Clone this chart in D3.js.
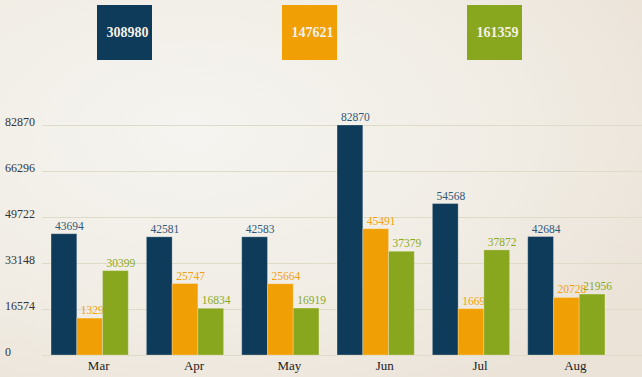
<!DOCTYPE html>
<html>
<head>
<meta charset="utf-8">
<script src="https://cdn.jsdelivr.net/npm/d3@7"></script>
<style>
  html, body { margin: 0; padding: 0; }
  body { width: 642px; height: 377px; overflow: hidden; }
  svg text { font-family: "Liberation Serif", "DejaVu Serif", serif; }
</style>
</head>
<body>
<div id="chart"></div>
<script>
const width = 642;
const height = 377;

// data
const months = ["Mar", "Apr", "May", "Jun", "Jul", "Aug"];
const seriesNames = ["navy", "orange", "green"];
const navyValues   = [43694, 42581, 42583, 82870, 54568, 42684];
const orangeValues = [13295, 25747, 25664, 45491, 16696, 20728];
const greenValues  = [30399, 16834, 16919, 37379, 37872, 21956];
// labels as printed on the chart (two orange ones are shown cut short)
const orangeLabels = ["1329", "25747", "25664", "45491", "1669", "20728"];
const yTicks = [0, 16574, 33148, 49722, 66296, 82870];

const colors = { navy: "#0e3b5a", orange: "#f09f04", green: "#89a71e" };
const labelColors = { navy: "#2f5878", orange: "#f3a10c", green: "#8aa91f" };

const series = [
    { key: "navy", values: navyValues, labels: navyValues.map(String) },
    { key: "orange", values: orangeValues, labels: orangeLabels },
    { key: "green", values: greenValues, labels: greenValues.map(String) }
];

const svg = d3.select("#chart")
    .append("svg")
    .attr("width", width)
    .attr("height", height);

// background
const defs = svg.append("defs");
const bg = defs.append("radialGradient")
    .attr("id", "bg")
    .attr("cx", "30%").attr("cy", "35%").attr("r", "80%");
bg.append("stop").attr("offset", "0%").attr("stop-color", "#f5f4f0");
bg.append("stop").attr("offset", "60%").attr("stop-color", "#f1ede5");
bg.append("stop").attr("offset", "100%").attr("stop-color", "#ebe3d8");
svg.append("rect")
    .attr("width", width).attr("height", height)
    .attr("fill", "url(#bg)");

const x = d3.scaleBand()
    .domain(months)
    .range([42, 614])
    .paddingInner(0.19)
    .paddingOuter(0.095);

const xInner = d3.scaleBand()
    .domain(seriesNames)
    .range([0, x.bandwidth()]);

const y = d3.scaleLinear()
    .domain([0, 82870])
    .range([355, 125]);

// gridlines + y labels
const grid = svg.append("g");
grid.selectAll("line")
    .data(yTicks)
    .enter()
    .append("line")
    .attr("x1", 42).attr("x2", width)
    .attr("y1", d => Math.round(y(d)) + 0.5)
    .attr("y2", d => Math.round(y(d)) + 0.5)
    .attr("stroke", "#dedbc9")
    .attr("stroke-width", 1);

grid.selectAll("text")
    .data(yTicks)
    .enter()
    .append("text")
    .attr("x", 5)
    .attr("y", d => y(d) + 1)
    .attr("font-size", "12px")
    .attr("fill", "#333")
    .text(d => d);

// bars
const groups = svg.selectAll("g.series")
    .data(series)
    .enter()
    .append("g")
    .attr("class", "series");

groups.selectAll("rect")
    .data(s => s.values.map((v, i) => ({ key: s.key, month: months[i], value: v })))
    .enter()
    .append("rect")
    .attr("x", d => x(d.month) + xInner(d.key))
    .attr("y", d => y(d.value))
    .attr("width", xInner.bandwidth())
    .attr("height", d => y(0) - y(d.value))
    .attr("fill", d => colors[d.key])
    .attr("stroke", "rgba(255,255,255,0.25)")
    .attr("stroke-width", 1);

groups.selectAll("text")
    .data(s => s.values.map((v, i) => ({ key: s.key, month: months[i], value: v, label: s.labels[i] })))
    .enter()
    .append("text")
    .attr("x", d => x(d.month) + xInner(d.key) + 4)
    .attr("y", d => y(d.value) - 4)
    .attr("font-size", "11.5px")
    .attr("fill", d => labelColors[d.key])
    .text(d => d.label);

// month labels
svg.append("g")
    .selectAll("text")
    .data(months)
    .enter()
    .append("text")
    .attr("x", d => x(d) + x.bandwidth() / 2 + 9)
    .attr("y", 370)
    .attr("text-anchor", "middle")
    .attr("font-size", "13px")
    .attr("fill", "#222")
    .text(d => d);

// totals boxes at the top
const boxX = d3.scalePoint()
    .domain(seriesNames)
    .range([97, 467]);

const boxes = svg.append("g")
    .selectAll("g")
    .data(series)
    .enter()
    .append("g")
    .attr("transform", d => `translate(${boxX(d.key)},5)`);

boxes.append("rect")
    .attr("width", 55)
    .attr("height", 55)
    .attr("fill", d => colors[d.key]);

boxes.append("text")
    .attr("x", 30.5)
    .attr("y", 32)
    .attr("text-anchor", "middle")
    .attr("font-size", "14px")
    .attr("font-weight", "bold")
    .attr("fill", "#f4f1ea")
    .text(d => d3.sum(d.values));
</script>
</body>
</html>
